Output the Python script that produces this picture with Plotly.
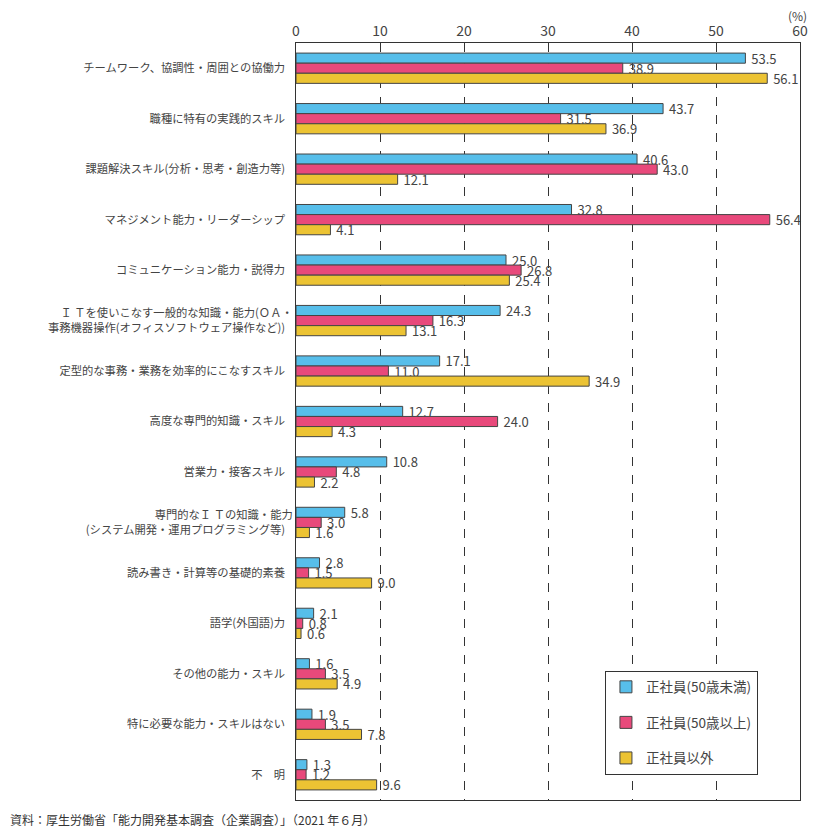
import plotly.graph_objects as go

categories = [
    "チームワーク、協調性・周囲との協働力",
    "職種に特有の実践的スキル",
    "課題解決スキル(分析・思考・創造力等)",
    "マネジメント能力・リーダーシップ",
    "コミュニケーション能力・説得力",
    "Ｉ Ｔを使いこなす一般的な知識・能力(ＯＡ・<br>事務機器操作(オフィスソフトウェア操作など))",
    "定型的な事務・業務を効率的にこなすスキル",
    "高度な専門的知識・スキル",
    "営業力・接客スキル",
    "専門的なＩ Ｔの知識・能力<br>(システム開発・運用プログラミング等)",
    "読み書き・計算等の基礎的素養",
    "語学(外国語)力",
    "その他の能力・スキル",
    "特に必要な能力・スキルはない",
    "不　明",
]
under50 = [53.5, 43.7, 40.6, 32.8, 25.0, 24.3, 17.1, 12.7, 10.8, 5.8, 2.8, 2.1, 1.6, 1.9, 1.3]
over50 = [38.9, 31.5, 43.0, 56.4, 26.8, 16.3, 11.0, 24.0, 4.8, 3.0, 1.5, 0.8, 3.5, 3.5, 1.2]
nonregular = [56.1, 36.9, 12.1, 4.1, 25.4, 13.1, 34.9, 4.3, 2.2, 1.6, 9.0, 0.6, 4.9, 7.8, 9.6]
series_names = ["正社員(50歳未満)", "正社員(50歳以上)", "正社員以外"]
colors = ["#57BEEA", "#E8497B", "#ECC333"]
tick_vals = [0, 10, 20, 30, 40, 50, 60]

FONT = "Noto Sans CJK JP"
fig = go.Figure()
for i, (name, vals, col) in enumerate(zip(series_names, [under50, over50, nonregular], colors)):
    fig.add_trace(go.Bar(
        y=categories, x=vals, name=name, orientation="h",
        marker=dict(color=col, line=dict(color="#444", width=1)),
        texttemplate=" %{x:.1f}", textposition="outside", constraintext="none",
        textfont=dict(size=13, color="#444", family=FONT),
        cliponaxis=False, legendgroup=f"g{i}",
    ))

fig.update_layout(
    width=827, height=825,
    margin=dict(l=288, r=35, t=32, b=33),
    paper_bgcolor="white", plot_bgcolor="white",
    barmode="group", bargap=0.4, bargroupgap=0.0,
    font=dict(family=FONT, size=11, color="#444"),
    showlegend=True,
    legend=dict(
        x=0.613, y=0.171, xanchor="left", yanchor="top",
        bordercolor="#333", borderwidth=1, bgcolor="white",
        font=dict(size=13.5, color="#444", family=FONT),
        tracegroupgap=15, itemwidth=30,
    ),
    xaxis=dict(
        side="top", range=[0, 60], tickvals=tick_vals,
        ticks="", showgrid=True, gridcolor="#333", griddash="dash", gridwidth=1,
        showline=True, linecolor="#333", linewidth=1, mirror=True,
        tickfont=dict(size=14, color="#444"), zeroline=False,
    ),
    yaxis=dict(
        autorange="reversed", showline=True, linecolor="#333", linewidth=1, mirror=True,
        ticks="", ticksuffix="   ", tickfont=dict(size=11.3, color="#444"),
    ),
    annotations=[
        dict(text="(%)", x=1.0, y=1.0, xref="paper", yref="paper", xanchor="center", yanchor="bottom",
             xshift=-3, yshift=17, showarrow=False, font=dict(size=12, color="#444")),
        dict(text="資料：厚生労働省「能力開発基本調査（企業調査）」（2021 年６月）", x=0, y=0,
             xref="paper", yref="paper", xanchor="left", yanchor="top", xshift=-288, yshift=-9,
             showarrow=False, font=dict(size=12, color="#333")),
    ],
)
fig.write_html("out.html")
